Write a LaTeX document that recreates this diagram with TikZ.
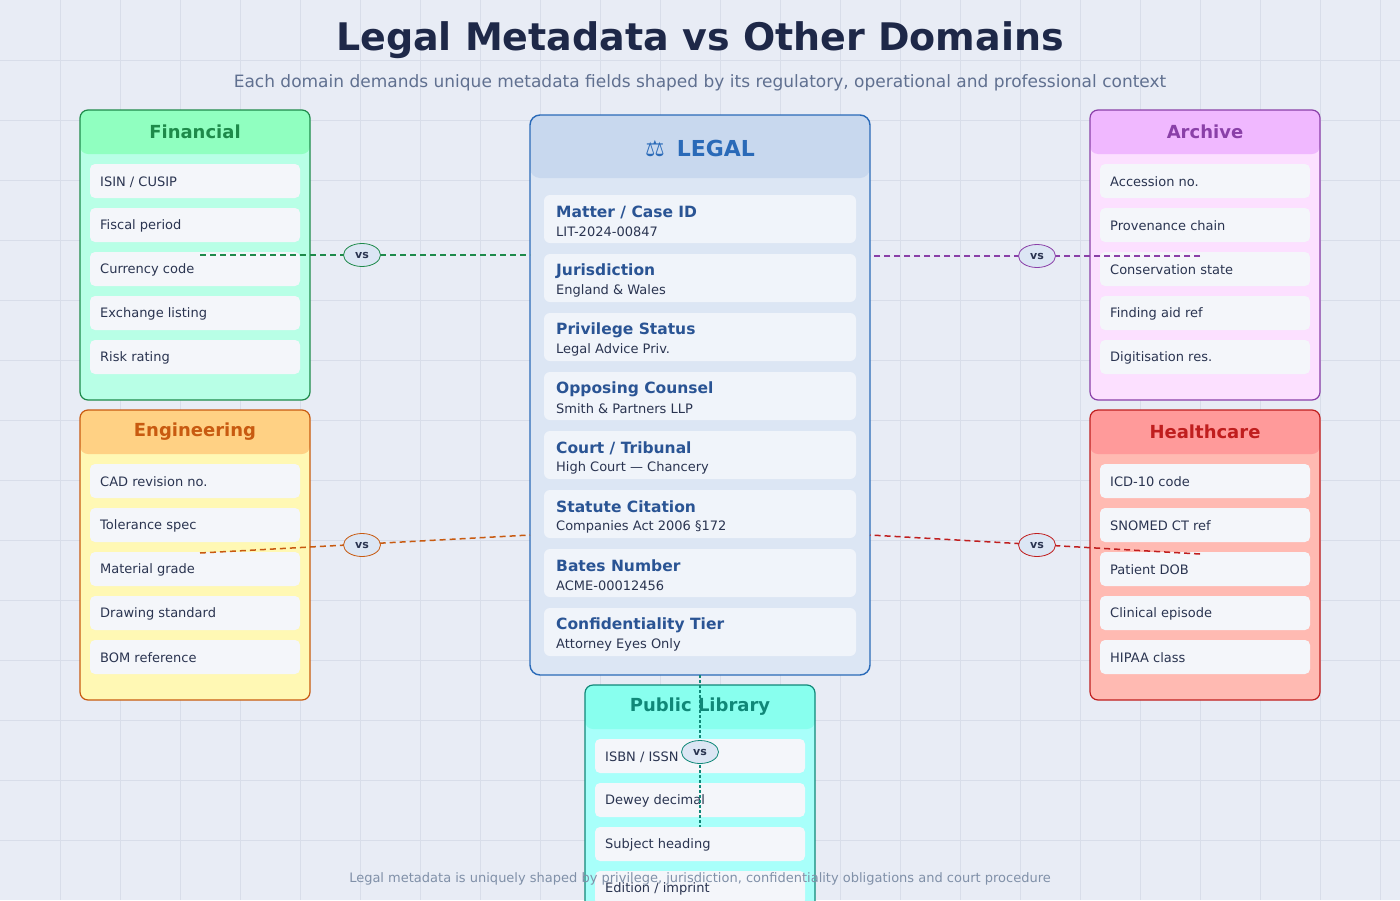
\documentclass[tikz,border=0pt]{standalone}
\usepackage{fontspec}
\setmainfont{DejaVu Sans}
\usetikzlibrary{shapes.geometric}
\definecolor{bg}{HTML}{E8ECF5}
\definecolor{grid}{HTML}{D8DDE9}
\definecolor{itembg}{HTML}{F4F6FA}
\definecolor{itemtx}{HTML}{2A3450}
\definecolor{finH}{HTML}{90FFC0}\definecolor{finB}{HTML}{B8FFE6}\definecolor{finC}{HTML}{1E8A4A}
\definecolor{engH}{HTML}{FFD184}\definecolor{engB}{HTML}{FFF8B4}\definecolor{engC}{HTML}{C85A10}
\definecolor{arcH}{HTML}{F0B8FF}\definecolor{arcB}{HTML}{FCE0FF}\definecolor{arcC}{HTML}{8A40A8}
\definecolor{heaH}{HTML}{FF9A9A}\definecolor{heaB}{HTML}{FFBAB2}\definecolor{heaC}{HTML}{C01E1E}
\definecolor{libH}{HTML}{88FFEE}\definecolor{libB}{HTML}{A8FFFA}\definecolor{libC}{HTML}{108878}
\definecolor{legH}{HTML}{C8D8EE}\definecolor{legB}{HTML}{DCE6F4}\definecolor{legC}{HTML}{2A6AB8}
\definecolor{legI}{HTML}{F0F4FA}\definecolor{legT}{HTML}{2A5494}
\definecolor{titc}{HTML}{1E2848}\definecolor{subc}{HTML}{607090}\definecolor{footc}{HTML}{8090A8}
\tikzset{
 item/.style={fill=itembg,rounded corners=5pt,draw=none},
 itemtext/.style={anchor=west,text=itemtx,font=\fontsize{13}{15}\selectfont,inner sep=0},
 vs/.style={ellipse,draw=#1,fill=legB,line width=0.8pt,minimum width=37pt,minimum height=23pt,inner sep=0,font=\bfseries\fontsize{11}{12}\selectfont,text=itemtx},
 conn/.style={draw=#1,line width=1.5pt,dash pattern=on 6pt off 4pt},
}
\newcommand{\mypanel}[8]{% name,x,y,h,H,B,C,title
 \fill[#6,rounded corners=8pt] (#2,#3) rectangle ++(230,#4);
 \fill[#5,rounded corners=8pt] (#2,#3) rectangle ++(230,44);
 \draw[#7,line width=1.2pt,rounded corners=8pt] (#2,#3) rectangle ++(230,#4);
 \node[font=\bfseries\fontsize{18}{20}\selectfont,text=#7] (#1) at (#2+115,#3+22) {#8};
}
\newcommand{\myitem}[4]{% name,x,y,text
 \fill[item] (#2,#3) rectangle ++(210,34);
 \node[itemtext] (#1) at (#2+10,#3+18) {#4};
}
\begin{document}
\begin{tikzpicture}[x=1pt,y=-1pt]
\fill[bg] (0,0) rectangle (1400,900);
\useasboundingbox (0,0) rectangle (1400,900);
\foreach \i in {60,120,...,1380} \draw[grid,line width=0.8pt] (\i,0) -- (\i,900);
\foreach \i in {60,120,...,840} \draw[grid,line width=0.8pt] (0,\i) -- (1400,\i);
\node[font=\bfseries\fontsize{38}{42}\selectfont,text=titc] (title) at (700,40) {Legal Metadata vs Other Domains};
\node[font=\fontsize{17}{19}\selectfont,text=subc] (sub) at (700,83) {Each domain demands unique metadata fields shaped by its regulatory, operational and professional context};
% panels
\mypanel{fin}{80}{110}{290}{finH}{finB}{finC}{Financial}
\foreach \t [count=\k] in {ISIN / CUSIP,Fiscal period,Currency code,Exchange listing,Risk rating}
 {\pgfmathsetmacro\yy{164+44*(\k-1)}\myitem{fin\k}{90}{\yy}{\t}}
\mypanel{eng}{80}{410}{290}{engH}{engB}{engC}{Engineering}
\foreach \t [count=\k] in {CAD revision no.,Tolerance spec,Material grade,Drawing standard,BOM reference}
 {\pgfmathsetmacro\yy{464+44*(\k-1)}\myitem{eng\k}{90}{\yy}{\t}}
\mypanel{arc}{1090}{110}{290}{arcH}{arcB}{arcC}{Archive}
\foreach \t [count=\k] in {Accession no.,Provenance chain,Conservation state,Finding aid ref,Digitisation res.}
 {\pgfmathsetmacro\yy{164+44*(\k-1)}\myitem{arc\k}{1100}{\yy}{\t}}
\mypanel{hea}{1090}{410}{290}{heaH}{heaB}{heaC}{Healthcare}
\foreach \t [count=\k] in {ICD-10 code,SNOMED CT ref,Patient DOB,Clinical episode,HIPAA class}
 {\pgfmathsetmacro\yy{464+44*(\k-1)}\myitem{hea\k}{1100}{\yy}{\t}}
\mypanel{lib}{585}{685}{260}{libH}{libB}{libC}{Public Library}
\foreach \t [count=\k] in {ISBN / ISSN,Dewey decimal,Subject heading,Edition / imprint}
 {\pgfmathsetmacro\yy{739+44*(\k-1)}\myitem{lib\k}{595}{\yy}{\t}}
% legal
\fill[legB,rounded corners=10pt] (530,115) rectangle (870,675);
\fill[legH,rounded corners=10pt] (530,115) rectangle (870,178);
\draw[legC,line width=1.4pt,rounded corners=10pt] (530,115) rectangle (870,675);
\node[font=\bfseries\fontsize{22}{24}\selectfont,text=legC] (leg) at (700,148) {⚖\hspace{12pt}LEGAL};
\foreach \a/\b [count=\k] in {{Matter / Case ID}/LIT-2024-00847,Jurisdiction/England \& Wales,Privilege Status/Legal Advice Priv.,Opposing Counsel/Smith \& Partners LLP,{Court / Tribunal}/High Court — Chancery,Statute Citation/Companies Act 2006 §172,Bates Number/ACME-00012456,Confidentiality Tier/Attorney Eyes Only}
{
 \pgfmathsetmacro\yy{195+59*(\k-1)}
 \fill[legI,rounded corners=6pt] (544,\yy) rectangle (856,\yy+48);
 \node[anchor=west,inner sep=0,font=\bfseries\fontsize{15.5}{17}\selectfont,text=legT] (lt\k) at (556,\yy+17) {\a};
 \node[anchor=west,inner sep=0,font=\fontsize{13}{15}\selectfont,text=itemtx] (ls\k) at (556,\yy+37) {\b};
}
% connectors
\coordinate (c1) at (200,255); \coordinate (c1b) at (530,255);
\coordinate (c2) at (1200,256); \coordinate (c2b) at (870,256);
\coordinate (c3) at (200,553); \coordinate (c3b) at (530,535);
\coordinate (c4) at (1200,554); \coordinate (c4b) at (870,535);
\coordinate (c5) at (700,675); \coordinate (c5b) at (700,827);
\draw[conn=finC] (c1) -- (c1b);
\draw[conn=arcC] (c2) -- (c2b);
\draw[conn=engC] (c3) -- (c3b);
\draw[conn=heaC] (c4) -- (c4b);
\draw[libC,line width=1.5pt,dash pattern=on 3pt off 2pt] (c5) -- (c5b);
\node[vs=finC] (v1) at (362,255) {vs};
\node[vs=arcC] (v2) at (1037,256) {vs};
\node[vs=engC] (v3) at (362,545) {vs};
\node[vs=heaC] (v4) at (1037,545) {vs};
\node[vs=libC] (v5) at (700,752) {vs};
\node[font=\fontsize{13}{15}\selectfont,text=footc] (foot) at (700,879) {Legal metadata is uniquely shaped by privilege, jurisdiction, confidentiality obligations and court procedure};
\end{tikzpicture}
\end{document}
